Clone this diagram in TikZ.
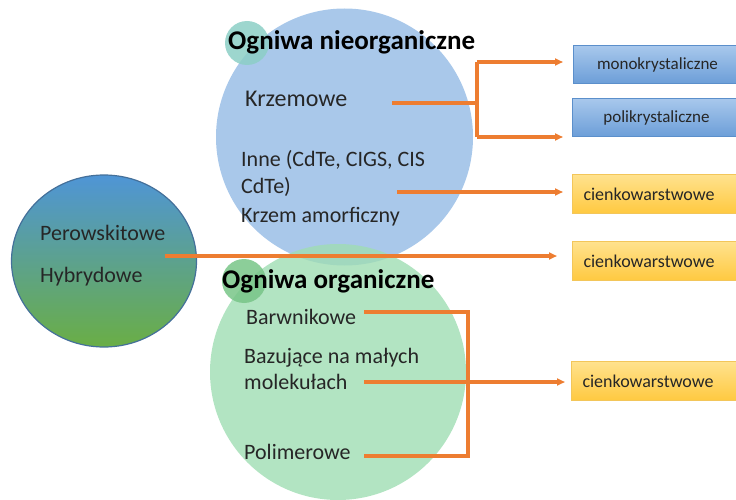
\documentclass[tikz,border=0pt]{standalone}
\usepackage{fontspec}
\setmainfont{Carlito}
\usetikzlibrary{arrows.meta,shapes.geometric}
\definecolor{cblue}{HTML}{A9C8EA}
\definecolor{cgreen}{HTML}{9FDDB3}
\definecolor{cteal}{HTML}{8CCFC6}
\definecolor{cgreen2}{HTML}{78C587}
\definecolor{corange}{HTML}{ED7D31}
\definecolor{bbtop}{HTML}{A8C8EC}
\definecolor{bbbot}{HTML}{6C9ED8}
\definecolor{bbdraw}{HTML}{5B8FCB}
\definecolor{ybtop}{HTML}{FFE28E}
\definecolor{ybbot}{HTML}{FFC940}
\definecolor{ybdraw}{HTML}{F3C65A}
\definecolor{ptop}{HTML}{4F95D6}
\definecolor{pbot}{HTML}{6AAE45}
\definecolor{pdraw}{HTML}{44709A}
\tikzset{
  txt/.style={anchor=base west,inner sep=0pt,font=\fontsize{22}{26}\selectfont,text=black!85},
  ttl/.style={anchor=base west,inner sep=0pt,font=\fontsize{27}{30}\selectfont\bfseries,text=black},
  conn/.style={draw=corange,line width=3.2pt},
  arr/.style={conn,-{Triangle[length=8pt,width=7pt]}},
  bluebox/.style={draw=bbdraw,line width=1pt,top color=bbtop,bottom color=bbbot,minimum width=168pt,minimum height=38pt,inner sep=0pt,font=\fontsize{17}{20}\selectfont,text=black!85},
  yelbox/.style={draw=ybdraw,line width=1pt,top color=ybtop,bottom color=ybbot,minimum height=39pt,text width=160pt,inner xsep=11pt,inner ysep=0pt,align=left,font=\fontsize{18}{21}\selectfont,text=black!85},
}
\begin{document}
\begin{tikzpicture}[x=1pt,y=-1pt]
\useasboundingbox (0,0) rectangle (736,500);
\clip (0,0) rectangle (736,500);
% circles
\node[circle,fill=cblue,minimum size=257pt,inner sep=0pt] (inorg) at (344.5,137) {};
\node[circle,fill=cgreen,fill opacity=0.8,minimum size=256pt,inner sep=0pt] (org) at (338,372) {};
\node[circle,fill=cteal,fill opacity=0.85,minimum size=44pt,inner sep=0pt] (sc1) at (247,43) {};
\node[circle,fill=cgreen2,fill opacity=0.85,minimum size=44pt,inner sep=0pt] (sc2) at (244,281) {};
\node[ellipse,draw=pdraw,line width=1.2pt,top color=ptop,bottom color=pbot,minimum width=185pt,minimum height=172pt,inner sep=0pt] (per) at (104,261) {};
% texts
\node[ttl] (t1) at (228,50) {Ogniwa nieorganiczne};
\node[txt,font=\fontsize{24}{28}\selectfont] (krz) at (245,107) {Krzemowe};
\node[txt] (inne1) at (241,167) {Inne (CdTe, CIGS, CIS};
\node[txt] (inne2) at (241,193) {CdTe)};
\node[txt] (amor) at (241,222) {Krzem amorficzny};
\node[txt] (pero) at (40,240) {Perowskitowe};
\node[txt] (hyb) at (40,282) {Hybrydowe};
\node[ttl] (t2) at (222,288) {Ogniwa organiczne};
\node[txt] (barw) at (246,324) {Barwnikowe};
\node[txt] (baz1) at (244,363) {Bazujące na małych};
\node[txt] (baz2) at (244,389) {molekułach};
\node[txt] (poli) at (244,459) {Polimerowe};
% boxes
\node[bluebox,anchor=north west] (bmono) at (573,45) {monokrystaliczne};
\node[bluebox,anchor=north west] (bpoli) at (572,98) {polikrystaliczne};
\node[yelbox,anchor=north west] (by1) at (572,174) {cienkowarstwowe};
\node[yelbox,anchor=north west] (by2) at (572,241) {cienkowarstwowe};
\node[yelbox,anchor=north west] (by3) at (571,361) {cienkowarstwowe};
% connector coordinates
\coordinate (k0) at (392,103);
\coordinate (kj) at (477,103);
\coordinate (kt) at (477,62);
\coordinate (kb) at (477,137);
\coordinate (ka) at (563,62);
\coordinate (kc) at (563,137);
\coordinate (i0) at (397,192);
\coordinate (i1) at (563,192);
\coordinate (p0) at (165,256);
\coordinate (p1) at (557,256);
\coordinate (b0) at (364,312);
\coordinate (bj) at (468,312);
\coordinate (m0) at (364,382);
\coordinate (m1) at (565,382);
\coordinate (q0) at (364,456);
\coordinate (qj) at (468,456);
% connectors
\draw[conn] (k0) -- (kj);
\draw[conn] (kt) -- (kb);
\draw[arr] (kt) -- (ka);
\draw[arr] (kb) -- (kc);
\draw[arr] (i0) -- (i1);
\draw[arr] (p0) -- (p1);
\draw[conn] (b0) -- (bj) -- (qj) -- (q0);
\draw[arr] (m0) -- (m1);
\end{tikzpicture}
\end{document}
